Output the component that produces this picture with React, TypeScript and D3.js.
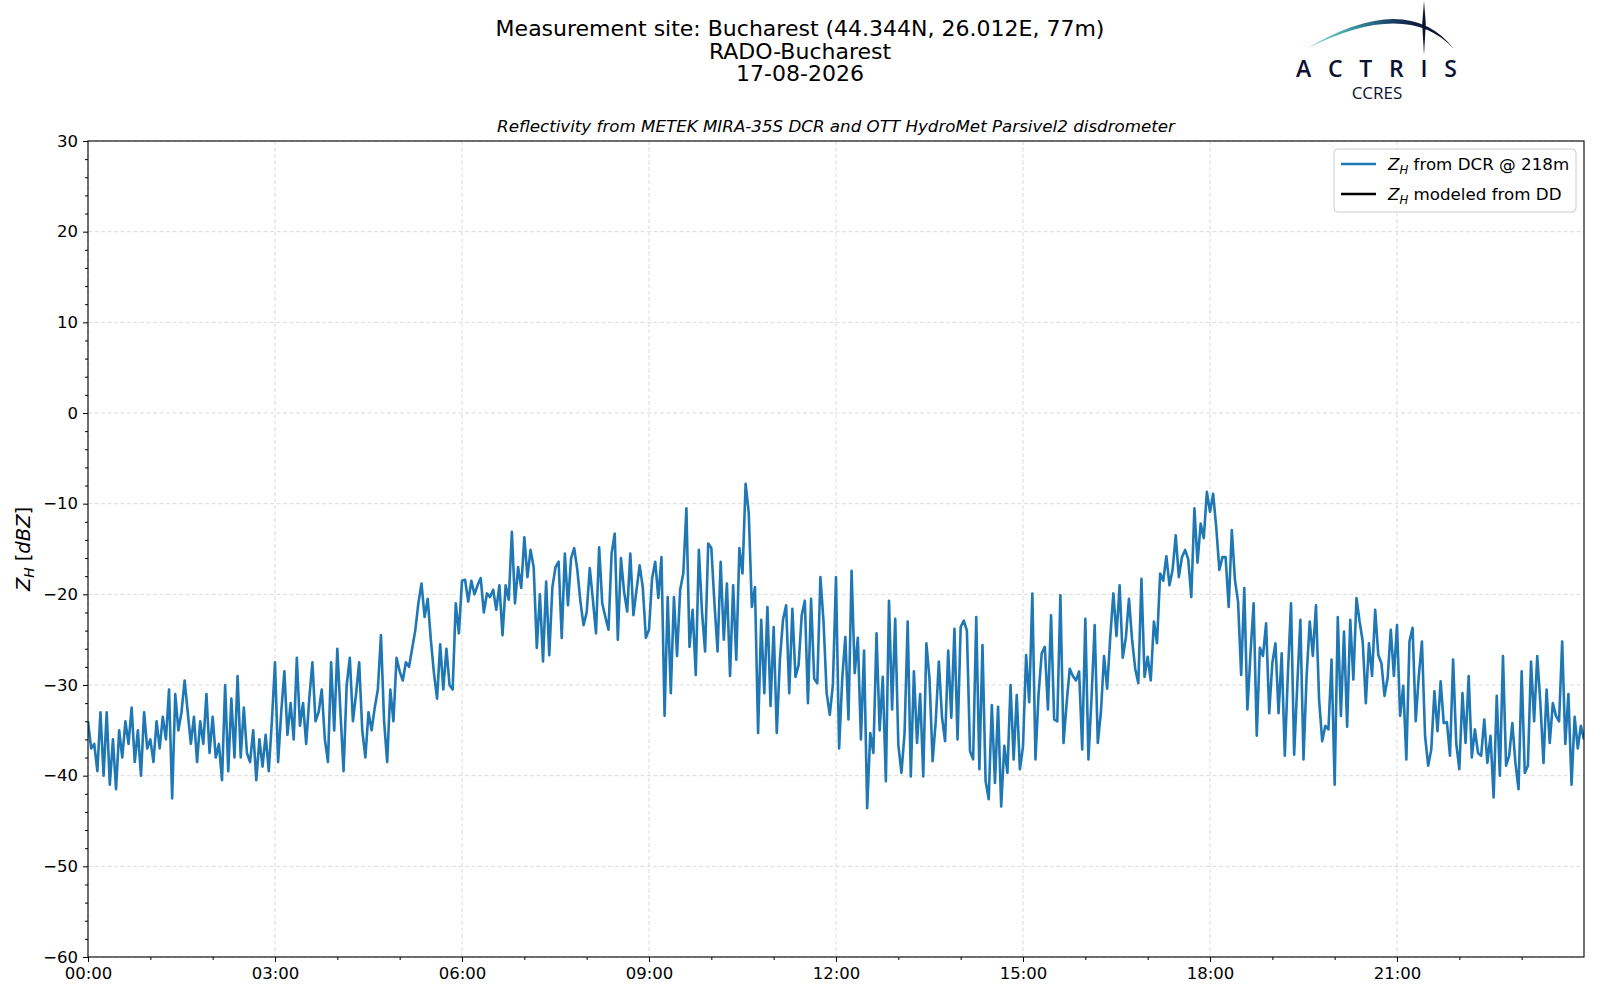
import React, { useEffect, useRef } from "react"
import * as d3 from "d3"

const W = 1600
const H = 1000
const MARGIN = { top: 141, right: 16, bottom: 43, left: 88 }

const TITLE_LINES = [
  "Measurement site: Bucharest (44.344N, 26.012E, 77m)",
  "RADO-Bucharest",
  "17-08-2026",
]
const SUBTITLE = "Reflectivity from METEK MIRA-35S DCR and OTT HydroMet Parsivel2 disdrometer"

const DAY_START = new Date(Date.UTC(2026, 7, 17))
const STEP_MIN = 3
const Y_DOMAIN: [number, number] = [-60, 30]
const Y_TICKS = [-60, -50, -40, -30, -20, -10, 0, 10, 20, 30]

// Z_H from DCR @ 218m, one value every 3 minutes (dBZ)
const zh00to03 = [
  -34, -37, -36.5, -39.5, -33, -40, -33, -41, -36, -41.5, -35, -38, -34, -36.5, -32.5, -38.5, -35, -40, -33, -37,
  -36, -38.5, -34, -37, -33.5, -36, -30.5, -42.5, -31, -35, -33, -29.5, -33, -36.5, -33.5, -38.5, -34, -36.5, -31, -37.5,
  -33.5, -38, -36.5, -40.5, -30, -39.5, -31.5, -38, -29, -38, -32.5, -37.5, -38.5, -35, -40.5, -36, -39, -35.5, -39.5, -34,
]
const zh03to06 = [
  -27.5, -38.5, -33, -28.5, -35.5, -32, -36, -27, -34.5, -32, -36.5, -31.5, -27.5, -34, -33, -30.5, -36, -38.5, -27.5, -35,
  -26, -33, -39.5, -30, -27, -34, -31, -27.5, -35, -38, -33, -35, -32.5, -30.5, -24.5, -34, -38.5, -30.5, -34, -27,
  -28.5, -29.5, -27.5, -28, -26, -24, -21, -18.8, -22.5, -20.5, -25, -28.7, -31.5, -25.5, -30.5, -26, -30, -30.5, -21, -24.3,
]
const zh06to09 = [
  -18.5, -18.4, -20.8, -18.5, -20, -19, -18.2, -22, -19.9, -20.3, -19.5, -21.7, -19, -24.5, -19, -20.6, -13.1, -21, -17, -19.3,
  -13.7, -18.1, -15.1, -17, -25.9, -20, -27.4, -18.6, -26.7, -19.2, -17, -16.4, -24.8, -15.5, -21.2, -16, -14.9, -17.3, -20.8, -23.4,
  -22, -17.1, -20.6, -24.3, -14.8, -21, -22.5, -23.9, -15.5, -13.3, -25, -16, -19.7, -21.9, -15.5, -22.3, -19.5, -16.8, -19.2, -24.8,
]
const zh09to12 = [
  -23.9, -18.2, -16.4, -20.4, -15.9, -33.4, -20.3, -30.9, -20.3, -26.8, -19.5, -17.7, -10.5, -25.8, -21.7, -28.9, -15.1, -21.9, -26.3, -14.4,
  -14.9, -21, -26.3, -16.4, -25, -18.8, -29, -19, -27.2, -14.9, -17.7, -7.8, -11, -21.4, -19.2, -35.3, -22.8, -30.9, -21.4, -32.3,
  -23.6, -35.3, -27.2, -22.8, -21.2, -30.9, -21.6, -29.1, -27.8, -22.3, -20.7, -32, -20.5, -29.3, -29.8, -18.1, -23, -30.9, -33.3, -30,
]
const zh12to15 = [
  -18.1, -37, -29.3, -24.7, -33.8, -17.4, -28.7, -24.8, -36, -26.2, -43.6, -35.3, -37.5, -24.3, -35, -29.1, -40.6, -20.7, -32.7, -22.7,
  -36.6, -39.7, -35.3, -23, -40.1, -28.5, -36.4, -31, -40.1, -25.4, -29.3, -38.4, -34, -27.4, -33.5, -36.2, -26.2, -33.6, -23.8, -36,
  -23.6, -22.9, -24, -37.3, -38.2, -22.5, -39.3, -25.6, -40.6, -42.6, -32.2, -40.8, -32.4, -43.4, -36.7, -39.7, -30, -38.2, -31.1, -39.3,
]
const zh15to18 = [
  -36.8, -26.7, -31.9, -19.9, -38.2, -31, -26.5, -25.8, -32.7, -22.3, -33.8, -34, -20.1, -36.4, -32, -28.2, -29, -29.5, -28.5, -37.1,
  -22.7, -38.2, -31.3, -23.4, -36.4, -33, -26.8, -30.4, -24.7, -19.9, -24.6, -19, -27, -24.8, -20.5, -25, -28.2, -29.8, -18.3, -29.1,
  -26.9, -29.5, -23, -25.4, -17.7, -18.5, -15.8, -19, -17.3, -13.5, -18.1, -15.9, -15.1, -16.1, -20.3, -10.5, -16.5, -12.2, -13.8, -8.7,
]
const zh18to21 = [
  -10.9, -8.9, -12.6, -17.3, -15.9, -15.9, -21.4, -12.9, -18.4, -20.8, -28.9, -19.3, -32.7, -26.5, -21, -35.6, -25.9, -26.8, -23.2, -33.1,
  -27.6, -25.4, -33.1, -26.5, -37.8, -28.7, -21, -37.7, -30, -22.8, -38.2, -29, -23, -26.8, -21.2, -31.6, -36.2, -34.5, -34.9, -27.2,
  -41, -22.5, -33.4, -24.1, -34.6, -22.8, -29.4, -20.4, -23, -25.2, -32, -25.4, -29, -21.7, -26.7, -27.6, -31.2, -29.2, -23.9, -29,
]
const zh21to24 = [
  -23.4, -33.4, -30.1, -38.2, -25.2, -23.7, -34, -29, -25.2, -35.6, -38.9, -37.1, -30.7, -35.1, -29.6, -34.2, -34.1, -37.8, -27.2, -36.4,
  -39.3, -30.9, -36.4, -29, -38, -34.9, -37.5, -37.8, -33.8, -38.6, -35.6, -42.4, -31.2, -40, -26.8, -38.9, -37.8, -34.2, -38.6, -41.5,
  -28.5, -39.7, -38.9, -27.4, -34, -26.8, -32, -38.6, -30.5, -36.4, -32, -33.4, -34, -25.2, -36.5, -31, -41, -33.5, -37, -34.5, -36,
]

const LEGEND = [
  { text: " from DCR @ 218m", color: "#1f77b4" },
  { text: " modeled from DD", color: "#000000" },
]

const FONT = "DejaVu Sans, sans-serif"
const LOGO_INK = "#0b1131"

export default function App() {
  const svgRef = useRef<SVGSVGElement>(null)

  useEffect(() => {
    document.body.style.margin = "0"
    const el = svgRef.current
    if (!el) return
    const svg = d3.select(el)
    svg.selectAll("*").remove()

    const left = MARGIN.left
    const right = W - MARGIN.right
    const top = MARGIN.top
    const bottom = H - MARGIN.bottom

    const values = [
      ...zh00to03, ...zh03to06, ...zh06to09, ...zh09to12,
      ...zh12to15, ...zh15to18, ...zh18to21, ...zh21to24,
    ]
    const points = values.map((v, i) => ({ t: d3.utcMinute.offset(DAY_START, i * STEP_MIN), v }))

    const dayEnd = d3.utcDay.offset(DAY_START, 1)
    const x = d3.scaleUtc().domain([DAY_START, dayEnd]).range([left, right])
    const y = d3.scaleLinear().domain(Y_DOMAIN).range([bottom, top])

    const majorX = d3.utcHour.every(3)!.range(DAY_START, dayEnd)
    const minorX = d3.utcHour.range(DAY_START, dayEnd).filter((d) => d.getUTCHours() % 3 !== 0)
    const minorY = d3.range(Y_DOMAIN[0], Y_DOMAIN[1] + 1, 2).filter((v) => v % 10 !== 0)

    // Titles
    svg.append("g").selectAll("text").data(TITLE_LINES).join("text")
      .attr("x", W / 2).attr("y", (_, i) => 36 + i * 22.5)
      .attr("text-anchor", "middle").attr("font-family", FONT).attr("font-size", 22)
      .attr("fill", "#000").text((d) => d)

    svg.append("text")
      .attr("x", (left + right) / 2).attr("y", 132)
      .attr("text-anchor", "middle").attr("font-family", FONT).attr("font-size", 16.7)
      .attr("font-style", "italic").text(SUBTITLE)

    // Logo
    const defs = svg.append("defs")
    const logo = svg.append("g")
    const grad = defs.append("linearGradient")
      .attr("id", "actrisArc").attr("gradientUnits", "userSpaceOnUse")
      .attr("x1", 1306).attr("y1", 0).attr("x2", 1455).attr("y2", 0)
    grad.selectAll("stop").data([
      [0, "#8ad6d0"], [0.28, "#3fa2aa"], [0.52, "#1f5273"], [0.72, "#121d44"], [1, LOGO_INK],
    ]).join("stop").attr("offset", (d) => d[0] as number).attr("stop-color", (d) => d[1] as string)
    const arc = d3.path()
    arc.moveTo(1306, 49)
    arc.quadraticCurveTo(1407, -11, 1454, 49)
    arc.quadraticCurveTo(1407, -2, 1306, 49)
    arc.closePath()
    logo.append("path").attr("d", arc.toString()).attr("fill", "url(#actrisArc)")
    const mast = d3.path()
    mast.moveTo(1424, 1)
    mast.lineTo(1425.8, 24)
    mast.lineTo(1424, 55)
    mast.lineTo(1422.2, 24)
    mast.closePath()
    logo.append("path").attr("d", mast.toString()).attr("fill", LOGO_INK)
    logo.append("text").attr("x", 1296).attr("y", 77)
      .attr("textLength", 161).attr("lengthAdjust", "spacing")
      .attr("font-family", "Open Sans, sans-serif").attr("font-size", 23).attr("font-weight", 600)
      .attr("fill", LOGO_INK).text("ACTRIS")
    logo.append("text").attr("x", 1377).attr("y", 99).attr("text-anchor", "middle")
      .attr("font-family", "Open Sans, sans-serif").attr("font-size", 17)
      .attr("fill", LOGO_INK).text("CCRES")

    // Grid
    const grid = svg.append("g").attr("stroke", "#d3d3d3").attr("stroke-width", 0.8).attr("stroke-dasharray", "4,2.5")
    grid.selectAll("line.gx").data(majorX).join("line").attr("class", "gx")
      .attr("x1", (d) => x(d)).attr("x2", (d) => x(d)).attr("y1", top).attr("y2", bottom)
    grid.selectAll("line.gy").data(Y_TICKS).join("line").attr("class", "gy")
      .attr("x1", left).attr("x2", right).attr("y1", (d) => y(d)).attr("y2", (d) => y(d))

    // Series
    defs.append("clipPath").attr("id", "plotClip")
      .append("rect").attr("x", left).attr("y", top).attr("width", right - left).attr("height", bottom - top)
    const line = d3.line<{ t: Date; v: number }>().x((d) => x(d.t)).y((d) => y(d.v))
    svg.append("path").datum(points)
      .attr("clip-path", "url(#plotClip)")
      .attr("fill", "none").attr("stroke", "#1f77b4").attr("stroke-width", 2.6)
      .attr("stroke-linejoin", "round").attr("d", line)

    // Axes
    const styleAxis = (g: d3.Selection<SVGGElement, unknown, null, undefined>) => {
      g.select(".domain").remove()
      g.selectAll(".tick line").attr("stroke", "#000").attr("stroke-width", 1)
      g.selectAll("text").attr("fill", "#000").attr("font-size", 16.5).attr("font-family", FONT)
    }
    svg.append("g").attr("transform", `translate(${left},0)`)
      .call(d3.axisLeft(y).tickValues(Y_TICKS).tickSize(5).tickPadding(5))
      .call(styleAxis)
    svg.append("g").attr("transform", `translate(${left},0)`)
      .call(d3.axisLeft(y).tickValues(minorY).tickSize(3).tickFormat(() => ""))
      .call(styleAxis)
    svg.append("g").attr("transform", `translate(0,${bottom})`)
      .call(d3.axisBottom(x).tickValues(majorX).tickSize(5).tickPadding(5).tickFormat((d) => d3.utcFormat("%H:%M")(d as Date)))
      .call(styleAxis)
    svg.append("g").attr("transform", `translate(0,${bottom})`)
      .call(d3.axisBottom(x).tickValues(minorX).tickSize(3).tickFormat(() => ""))
      .call(styleAxis)

    svg.append("rect").attr("x", left).attr("y", top).attr("width", right - left).attr("height", bottom - top)
      .attr("fill", "none").attr("stroke", "#000").attr("stroke-width", 1.1)

    // Y label
    const yl = svg.append("text")
      .attr("transform", `translate(30,${(top + bottom) / 2}) rotate(-90)`)
      .attr("text-anchor", "middle").attr("font-family", FONT).attr("font-size", 19.5)
    yl.append("tspan").attr("font-style", "italic").text("Z")
    yl.append("tspan").attr("font-style", "italic").attr("font-size", 13.7).attr("dy", 4).text("H")
    yl.append("tspan").attr("dy", -4).text(" [")
    yl.append("tspan").attr("font-style", "italic").text("dBZ")
    yl.append("tspan").text("]")

    // Legend
    const lg = svg.append("g")
    lg.append("rect").attr("x", 1334).attr("y", 149).attr("width", 242).attr("height", 63).attr("rx", 4)
      .attr("fill", "#fff").attr("fill-opacity", 0.8).attr("stroke", "#cccccc").attr("stroke-width", 1)
    const rows = lg.selectAll("g.row").data(LEGEND).join("g").attr("class", "row")
      .attr("transform", (_, i) => `translate(0,${164 + i * 30})`)
    rows.append("line").attr("x1", 1341).attr("x2", 1376).attr("y1", 0).attr("y2", 0)
      .attr("stroke", (d) => d.color).attr("stroke-width", 2.4)
    const lt = rows.append("text").attr("x", 1388).attr("y", 6)
      .attr("font-family", FONT).attr("font-size", 16.7).attr("fill", "#000")
    lt.append("tspan").attr("font-style", "italic").text("Z")
    lt.append("tspan").attr("font-style", "italic").attr("font-size", 11.7).attr("dy", 3.5).text("H")
    lt.append("tspan").attr("dy", -3.5).text((d) => d.text)
  }, [])

  return <svg ref={svgRef} width={W} height={H} style={{ display: "block", background: "#fff" }} />
}
